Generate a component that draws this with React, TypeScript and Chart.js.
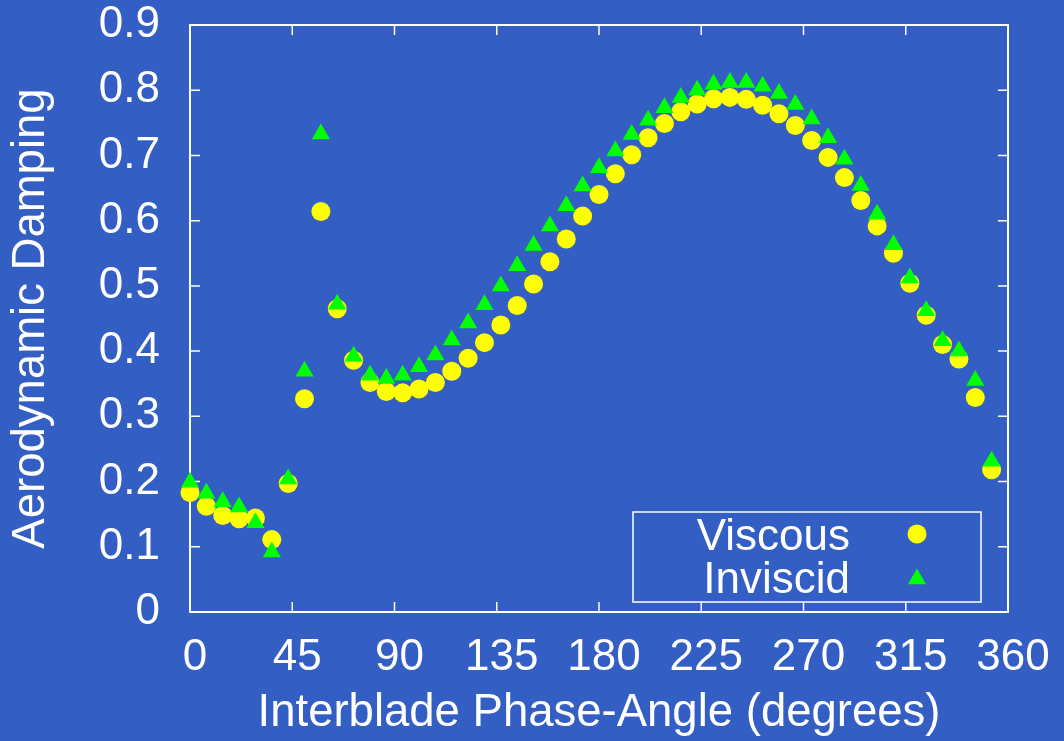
import React, { useEffect, useRef } from 'react';
import { Chart, registerables } from 'chart.js';

Chart.register(...registerables);

// Interblade phase angles (degrees)
const phaseAngles = [
  0, 7.2, 14.4, 21.6, 28.8, 36, 43.2, 50.4, 57.6, 64.8,
  72, 79.2, 86.4, 93.6, 100.8, 108, 115.2, 122.4, 129.6, 136.8,
  144, 151.2, 158.4, 165.6, 172.8, 180, 187.2, 194.4, 201.6, 208.8,
  216, 223.2, 230.4, 237.6, 244.8, 252, 259.2, 266.4, 273.6, 280.8,
  288, 295.2, 302.4, 309.6, 316.8, 324, 331.2, 338.4, 345.6, 352.8,
];

const viscous = [
  0.183, 0.162, 0.148, 0.143, 0.144, 0.111, 0.197, 0.327, 0.614, 0.465,
  0.386, 0.352, 0.338, 0.336, 0.342, 0.352, 0.369, 0.389, 0.413, 0.440,
  0.470, 0.503, 0.537, 0.572, 0.607, 0.640, 0.672, 0.701, 0.727, 0.749,
  0.767, 0.779, 0.787, 0.789, 0.786, 0.777, 0.764, 0.746, 0.723, 0.697,
  0.666, 0.631, 0.592, 0.550, 0.504, 0.455, 0.410, 0.388, 0.329, 0.218,
];

const inviscid = [
  0.199, 0.182, 0.169, 0.161, 0.137, 0.092, 0.204, 0.369, 0.733, 0.472,
  0.392, 0.363, 0.358, 0.363, 0.376, 0.394, 0.417, 0.443, 0.471, 0.500,
  0.531, 0.562, 0.592, 0.623, 0.653, 0.681, 0.707, 0.732, 0.754, 0.773,
  0.789, 0.800, 0.809, 0.812, 0.812, 0.806, 0.795, 0.778, 0.756, 0.727,
  0.694, 0.654, 0.610, 0.563, 0.512, 0.462, 0.416, 0.400, 0.355, 0.231,
];

const xTickValues = [0, 45, 90, 135, 180, 225, 270, 315, 360];
const xTickLabels = ['0', '45', '90', '135', '180', '225', '270', '315', '360'];
const yTickValues = [0, 0.1, 0.2, 0.3, 0.4, 0.5, 0.6, 0.7, 0.8, 0.9];
const yTickLabels = ['0', '0.1', '0.2', '0.3', '0.4', '0.5', '0.6', '0.7', '0.8', '0.9'];

const seriesLabels = ['Viscous', 'Inviscid'];
const xTitle = 'Interblade Phase-Angle (degrees)';
const yTitle = 'Aerodynamic Damping';

const FONT = '"Liberation Sans", Arial, Helvetica, sans-serif';
const BG = '#335EC4';
const WHITE = '#ffffff';
const YELLOW = '#ffff00';
const GREEN = '#00ff00';

export default function App() {
  const ref = useRef<HTMLCanvasElement>(null);

  useEffect(() => {
    document.body.style.margin = '0';
    document.body.style.background = BG;
    const canvas = ref.current;
    if (!canvas) return;

    const decor = {
      id: 'decor',
      beforeDraw(chart: any) {
        const { ctx, width, height } = chart;
        ctx.save();
        ctx.fillStyle = BG;
        ctx.fillRect(0, 0, width, height);
        ctx.restore();
      },
      beforeDatasetsDraw(chart: any) {
        const { ctx, chartArea: a, scales } = chart;
        ctx.save();
        ctx.strokeStyle = WHITE;
        ctx.lineWidth = 2;
        ctx.strokeRect(a.left, a.top, a.right - a.left, a.bottom - a.top);
        const L = 10;
        ctx.lineWidth = 1.5;
        ctx.beginPath();
        scales.x.ticks.forEach((t: any) => {
          const px = scales.x.getPixelForValue(t.value);
          if (px <= a.left + 1 || px >= a.right - 1) return;
          ctx.moveTo(px, a.bottom);
          ctx.lineTo(px, a.bottom - L);
          ctx.moveTo(px, a.top);
          ctx.lineTo(px, a.top + L);
        });
        scales.y.ticks.forEach((t: any) => {
          const py = scales.y.getPixelForValue(t.value);
          if (py <= a.top + 1 || py >= a.bottom - 1) return;
          ctx.moveTo(a.left, py);
          ctx.lineTo(a.left + L, py);
          ctx.moveTo(a.right, py);
          ctx.lineTo(a.right - L, py);
        });
        ctx.stroke();
        ctx.restore();
      },
      afterDraw(chart: any) {
        const { ctx } = chart;
        ctx.save();
        ctx.strokeStyle = WHITE;
        ctx.lineWidth = 1.5;
        ctx.strokeRect(633, 512, 348, 90);
        ctx.font = `44px ${FONT}`;
        ctx.fillStyle = WHITE;
        ctx.textAlign = 'right';
        ctx.textBaseline = 'alphabetic';
        chart.data.datasets.forEach((ds: any, i: number) => {
          const baseY = 550 + i * 43;
          ctx.fillStyle = WHITE;
          ctx.fillText(ds.label, 850, baseY);
          const cx = 917;
          const cy = 534 + i * 45;
          ctx.fillStyle = ds.backgroundColor;
          ctx.beginPath();
          if (ds.pointStyle === 'triangle') {
            const r = ds.pointRadius;
            ctx.moveTo(cx, cy - r);
            ctx.lineTo(cx + Math.sin((2 * Math.PI) / 3) * r, cy - Math.cos((2 * Math.PI) / 3) * r);
            ctx.lineTo(cx + Math.sin((4 * Math.PI) / 3) * r, cy - Math.cos((4 * Math.PI) / 3) * r);
            ctx.closePath();
          } else {
            ctx.arc(cx, cy, ds.pointRadius, 0, Math.PI * 2);
          }
          ctx.fill();
        });
        ctx.restore();
      },
    };

    const chart = new Chart(canvas, {
      type: 'scatter',
      data: {
        datasets: [
          {
            label: seriesLabels[0],
            data: phaseAngles.map((x, i) => ({ x, y: viscous[i] })),
            pointStyle: 'circle',
            pointRadius: 9.5,
            backgroundColor: YELLOW,
            borderWidth: 0,
            pointBorderWidth: 0,
            order: 1,
            clip: false,
          } as any,
          {
            label: seriesLabels[1],
            data: phaseAngles.map((x, i) => ({ x, y: inviscid[i] })),
            pointStyle: 'triangle',
            pointRadius: 10.5,
            backgroundColor: GREEN,
            borderWidth: 0,
            pointBorderWidth: 0,
            order: 0,
            clip: false,
          } as any,
        ],
      },
      options: {
        animation: false,
        responsive: false,
        devicePixelRatio: 1,
        events: [],
        layout: { padding: { left: 0, right: 56, top: 25, bottom: 0 } },
        plugins: { legend: { display: false }, tooltip: { enabled: false } },
        scales: {
          x: {
            type: 'linear',
            min: 0,
            max: 360,
            grid: { display: false, drawTicks: false },
            border: { display: false },
            afterBuildTicks: (s: any) => {
              s.ticks = xTickValues.map((v) => ({ value: v }));
            },
            afterFit: (s: any) => {
              s.height = 129;
              s.paddingLeft = 0;
              s.paddingRight = 0;
            },
            ticks: {
              color: WHITE,
              font: { family: FONT, size: 44 },
              padding: 19,
              labelOffset: 5,
              maxRotation: 0,
              minRotation: 0,
              autoSkip: false,
              callback: (_v: any, i: number) => xTickLabels[i],
            },
            title: {
              display: true,
              text: xTitle,
              color: WHITE,
              font: { family: FONT, size: 45.5 },
              padding: { top: 0, bottom: 0 },
            },
          },
          y: {
            type: 'linear',
            min: 0,
            max: 0.9,
            grid: { display: false, drawTicks: false },
            border: { display: false },
            afterBuildTicks: (s: any) => {
              s.ticks = yTickValues.map((v) => ({ value: v }));
            },
            afterFit: (s: any) => {
              s.width = 190;
              s.paddingTop = 0;
              s.paddingBottom = 0;
            },
            ticks: {
              color: WHITE,
              font: { family: FONT, size: 44 },
              padding: 30,
              autoSkip: false,
              callback: (_v: any, i: number) => yTickLabels[i],
            },
            title: {
              display: true,
              text: yTitle,
              color: WHITE,
              font: { family: FONT, size: 45.5 },
              padding: { top: 4, bottom: 0 },
            },
          },
        },
      } as any,
      plugins: [decor],
    });

    return () => chart.destroy();
  }, []);

  return <canvas ref={ref} width={1064} height={741} style={{ display: 'block' }} />;
}
